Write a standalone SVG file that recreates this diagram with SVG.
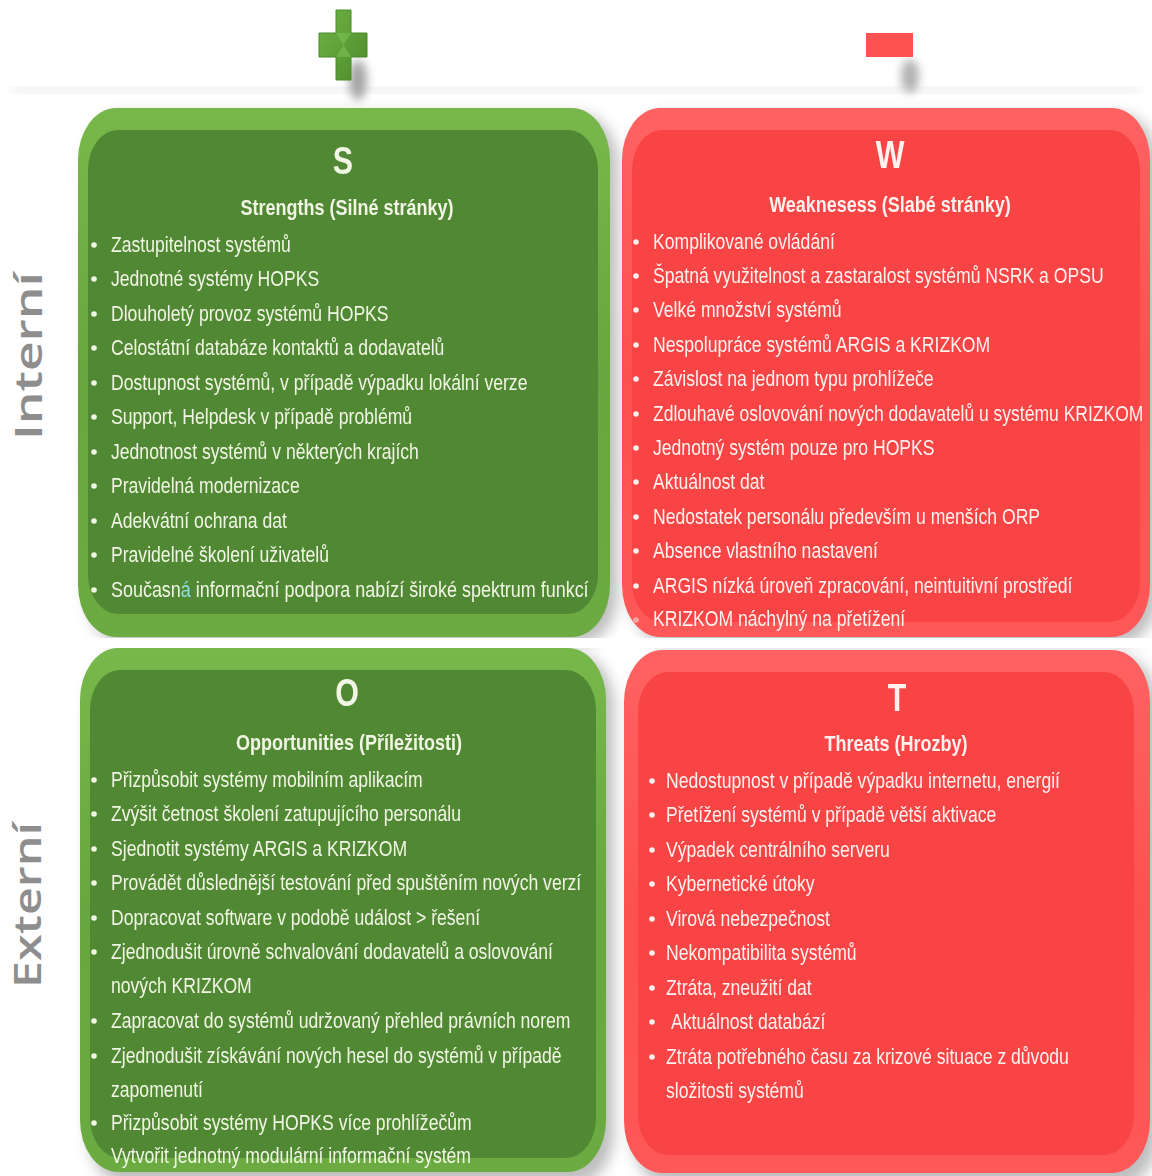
<svg xmlns="http://www.w3.org/2000/svg" width="1152" height="1176" viewBox="0 0 1152 1176">
<defs>
<style>
.it{font-family:"Liberation Sans",Arial,sans-serif;font-size:22px}
.hd{font-family:"Liberation Sans",Arial,sans-serif;font-size:22.5px;font-weight:bold;text-anchor:middle}
.big{font-family:"Liberation Sans",Arial,sans-serif;font-size:38px;font-weight:bold;text-anchor:middle}
.g{fill:#f1f6e4}
.r{fill:#fff1ee}
.side{font-family:"Open Sans","DejaVu Sans",sans-serif;font-size:37px;font-weight:600;fill:#8e8e8e;text-anchor:middle}
</style>
<linearGradient id="gOut" x1="0" y1="0" x2="0" y2="1">
<stop offset="0" stop-color="#78b84b"/><stop offset="0.5" stop-color="#68a63f"/><stop offset="1" stop-color="#6cab42"/>
</linearGradient>
<linearGradient id="rOut" x1="0" y1="0" x2="0" y2="1">
<stop offset="0" stop-color="#ff6262"/><stop offset="0.5" stop-color="#fd5050"/><stop offset="1" stop-color="#ff5858"/>
</linearGradient>
<linearGradient id="plusG" x1="0" y1="0" x2="1" y2="1">
<stop offset="0" stop-color="#6fb545"/><stop offset="1" stop-color="#4b8b2b"/>
</linearGradient>
<filter id="blur" x="-20%" y="-20%" width="140%" height="140%"><feGaussianBlur stdDeviation="7"/></filter>
<filter id="blur2" x="-50%" y="-50%" width="200%" height="200%"><feGaussianBlur stdDeviation="5"/></filter>
</defs>
<rect width="1152" height="1176" fill="#ffffff"/>
<rect x="12" y="88" width="1128" height="4" fill="#e4e4e4" filter="url(#blur2)"/>
<g id="shadows" fill="#a8a8a8" opacity="0.75">
<rect x="86" y="114" width="532" height="530" rx="38" ry="52" filter="url(#blur)"/>
<rect x="630" y="114" width="528" height="530" rx="38" ry="52" filter="url(#blur)"/>
<rect x="88" y="654" width="526" height="530" rx="38" ry="52" filter="url(#blur)"/>
<rect x="632" y="656" width="526" height="530" rx="38" ry="52" filter="url(#blur)"/>
</g>
<rect x="0" y="638" width="1152" height="10" fill="#ffffff"/>

<g id="plus-icon">
<ellipse cx="358" cy="80" rx="9" ry="20" fill="#a4a4a4" filter="url(#blur2)"/>
<path d="M336 10H351V33H367V57H351V80H336V57H319V33H336Z" fill="url(#plusG)" stroke="#4a8a2a" stroke-width="1"/>
<path d="M336 33L343.5 45L351 33Z M336 57L343.5 45L351 57Z" fill="#7cc154" opacity="0.6"/>
</g>
<g id="minus-icon">
<ellipse cx="910" cy="76" rx="9" ry="17" fill="#b0b0b0" filter="url(#blur2)"/>
<rect x="866" y="33" width="47" height="24" fill="#fe5252"/>
</g>

<g id="label-interni">
<text class="side" transform="translate(42,356) rotate(-90)" textLength="168" lengthAdjust="spacingAndGlyphs">Interní</text>
</g>
<g id="label-externi">
<text class="side" transform="translate(41,905) rotate(-90)" textLength="166" lengthAdjust="spacingAndGlyphs">Externí</text>
</g>

<g id="node-S">
<rect x="78" y="108" width="532" height="529" rx="38" ry="52" fill="url(#gOut)"/>
<rect x="88" y="130" width="510" height="484" rx="30" ry="40" fill="#518834"/>
<text class="big g" transform="matrix(0.8 0 0 1 343 174)">S</text>
<text class="hd g" transform="matrix(0.8 0 0 1 347 215)">Strengths (Silné stránky)</text>
<g class="g">
<circle cx="94" cy="245" r="2.8"/><circle cx="94" cy="279" r="2.8"/><circle cx="94" cy="314" r="2.8"/><circle cx="94" cy="348" r="2.8"/><circle cx="94" cy="383" r="2.8"/><circle cx="94" cy="417" r="2.8"/><circle cx="94" cy="452" r="2.8"/><circle cx="94" cy="486" r="2.8"/><circle cx="94" cy="521" r="2.8"/><circle cx="94" cy="555" r="2.8"/><circle cx="94" cy="590" r="2.8"/>
</g>
<g class="it g">
<text transform="matrix(0.8 0 0 1 111 252)">Zastupitelnost systémů</text>
<text transform="matrix(0.8 0 0 1 111 286)">Jednotné  systémy HOPKS</text>
<text transform="matrix(0.8 0 0 1 111 321)">Dlouholetý  provoz systémů HOPKS</text>
<text transform="matrix(0.8 0 0 1 111 355)">Celostátní databáze kontaktů a dodavatelů</text>
<text transform="matrix(0.8 0 0 1 111 390)">Dostupnost systémů, v případě výpadku lokální verze</text>
<text transform="matrix(0.8 0 0 1 111 424)">Support, Helpdesk v případě problémů</text>
<text transform="matrix(0.8 0 0 1 111 459)">Jednotnost systémů v některých krajích</text>
<text transform="matrix(0.8 0 0 1 111 493)">Pravidelná modernizace</text>
<text transform="matrix(0.8 0 0 1 111 528)">Adekvátní ochrana dat</text>
<text transform="matrix(0.8 0 0 1 111 562)">Pravidelné školení uživatelů</text>
<text transform="matrix(0.8 0 0 1 111 597)" textLength="597" lengthAdjust="spacingAndGlyphs">Současn<tspan fill="#8fdede">á</tspan> informační podpora nabízí široké spektrum funkcí</text>
</g>
</g>

<g id="node-W">
<rect x="622" y="108" width="528" height="529" rx="38" ry="52" fill="url(#rOut)"/>
<rect x="632" y="130" width="508" height="492" rx="30" ry="40" fill="#f84444"/>
<text class="big r" transform="matrix(0.8 0 0 1 890 168)">W</text>
<text class="hd r" transform="matrix(0.8 0 0 1 890 212)">Weaknesess (Slabé stránky)</text>
<g class="r">
<circle cx="636" cy="242" r="2.8"/><circle cx="636" cy="276" r="2.8"/><circle cx="636" cy="310" r="2.8"/><circle cx="636" cy="345" r="2.8"/><circle cx="636" cy="379" r="2.8"/><circle cx="636" cy="414" r="2.8"/><circle cx="636" cy="448" r="2.8"/><circle cx="636" cy="482" r="2.8"/><circle cx="636" cy="517" r="2.8"/><circle cx="636" cy="551" r="2.8"/><circle cx="636" cy="586" r="2.8"/><circle cx="636" cy="620" r="2.8" opacity="0.5"/>
</g>
<g class="it r">
<text transform="matrix(0.8 0 0 1 653 249)">Komplikované ovládání</text>
<text transform="matrix(0.8 0 0 1 653 283)">Špatná využitelnost a zastaralost systémů NSRK a OPSU</text>
<text transform="matrix(0.8 0 0 1 653 317)">Velké množství systémů</text>
<text transform="matrix(0.8 0 0 1 653 352)">Nespolupráce systémů ARGIS a KRIZKOM</text>
<text transform="matrix(0.8 0 0 1 653 386)">Závislost na jednom typu prohlížeče</text>
<text transform="matrix(0.8 0 0 1 653 421)" textLength="613" lengthAdjust="spacingAndGlyphs">Zdlouhavé oslovování nových dodavatelů u systému KRIZKOM</text>
<text transform="matrix(0.8 0 0 1 653 455)">Jednotný systém pouze pro HOPKS</text>
<text transform="matrix(0.8 0 0 1 653 489)">Aktuálnost dat</text>
<text transform="matrix(0.8 0 0 1 653 524)">Nedostatek personálu především u menších ORP</text>
<text transform="matrix(0.8 0 0 1 653 558)">Absence vlastního nastavení</text>
<text transform="matrix(0.8 0 0 1 653 593)">ARGIS nízká úroveň zpracování, neintuitivní prostředí</text>
<text transform="matrix(0.8 0 0 1 653 626)">KRIZKOM náchylný na přetížení</text>
</g>
</g>

<g id="node-O">
<rect x="80" y="648" width="526" height="524" rx="38" ry="52" fill="url(#gOut)"/>
<rect x="90" y="670" width="506" height="488" rx="30" ry="40" fill="#518834"/>
<text class="big g" transform="matrix(0.8 0 0 1 347 706)">O</text>
<text class="hd g" transform="matrix(0.8 0 0 1 349 750)">Opportunities (Příležitosti)</text>
<g class="g">
<circle cx="94" cy="780" r="2.8"/><circle cx="94" cy="814" r="2.8"/><circle cx="94" cy="849" r="2.8"/><circle cx="94" cy="883" r="2.8"/><circle cx="94" cy="918" r="2.8"/><circle cx="94" cy="952" r="2.8"/><circle cx="94" cy="1021" r="2.8"/><circle cx="94" cy="1056" r="2.8"/><circle cx="94" cy="1123" r="2.8"/>
</g>
<g class="it g">
<text transform="matrix(0.8 0 0 1 111 787)">Přizpůsobit systémy mobilním aplikacím</text>
<text transform="matrix(0.8 0 0 1 111 821)">Zvýšit četnost školení zatupujícího personálu</text>
<text transform="matrix(0.8 0 0 1 111 856)">Sjednotit systémy ARGIS a KRIZKOM</text>
<text transform="matrix(0.8 0 0 1 111 890)">Provádět důslednější testování před spuštěním nových verzí</text>
<text transform="matrix(0.8 0 0 1 111 925)">Dopracovat software v podobě událost &gt; řešení</text>
<text transform="matrix(0.8 0 0 1 111 959)">Zjednodušit úrovně schvalování dodavatelů a oslovování</text>
<text transform="matrix(0.8 0 0 1 111 993)">nových KRIZKOM</text>
<text transform="matrix(0.8 0 0 1 111 1028)">Zapracovat do systémů udržovaný přehled právních norem</text>
<text transform="matrix(0.8 0 0 1 111 1063)">Zjednodušit získávání nových hesel  do systémů v případě</text>
<text transform="matrix(0.8 0 0 1 111 1097)">zapomenutí</text>
<text transform="matrix(0.8 0 0 1 111 1130)">Přizpůsobit systémy HOPKS více prohlížečům</text>
<text transform="matrix(0.8 0 0 1 111 1163)">Vytvořit jednotný modulární informační systém</text>
</g>
</g>

<g id="node-T">
<rect x="624" y="650" width="526" height="523" rx="38" ry="52" fill="url(#rOut)"/>
<rect x="638" y="672" width="496" height="483" rx="30" ry="40" fill="#f84444"/>
<text class="big r" transform="matrix(0.8 0 0 1 897 711)">T</text>
<text class="hd r" transform="matrix(0.8 0 0 1 896 751)">Threats (Hrozby)</text>
<g class="r">
<circle cx="652" cy="781" r="2.8"/><circle cx="652" cy="815" r="2.8"/><circle cx="652" cy="850" r="2.8"/><circle cx="652" cy="884" r="2.8"/><circle cx="652" cy="919" r="2.8"/><circle cx="652" cy="953" r="2.8"/><circle cx="652" cy="988" r="2.8"/><circle cx="652" cy="1022" r="2.8"/><circle cx="652" cy="1057" r="2.8"/>
</g>
<g class="it r">
<text transform="matrix(0.8 0 0 1 666 788)">Nedostupnost v případě výpadku internetu, energií</text>
<text transform="matrix(0.8 0 0 1 666 822)">Přetížení systémů v případě větší aktivace</text>
<text transform="matrix(0.8 0 0 1 666 857)">Výpadek centrálního serveru</text>
<text transform="matrix(0.8 0 0 1 666 891)">Kybernetické útoky</text>
<text transform="matrix(0.8 0 0 1 666 926)">Virová nebezpečnost</text>
<text transform="matrix(0.8 0 0 1 666 960)">Nekompatibilita systémů</text>
<text transform="matrix(0.8 0 0 1 666 995)">Ztráta, zneužití dat</text>
<text transform="matrix(0.8 0 0 1 671 1029)">Aktuálnost databází</text>
<text transform="matrix(0.8 0 0 1 666 1064)">Ztráta potřebného  času za krizové situace z důvodu</text>
<text transform="matrix(0.8 0 0 1 666 1098)">složitosti systémů</text>
</g>
</g>
<g id="connectors"/>
</svg>
